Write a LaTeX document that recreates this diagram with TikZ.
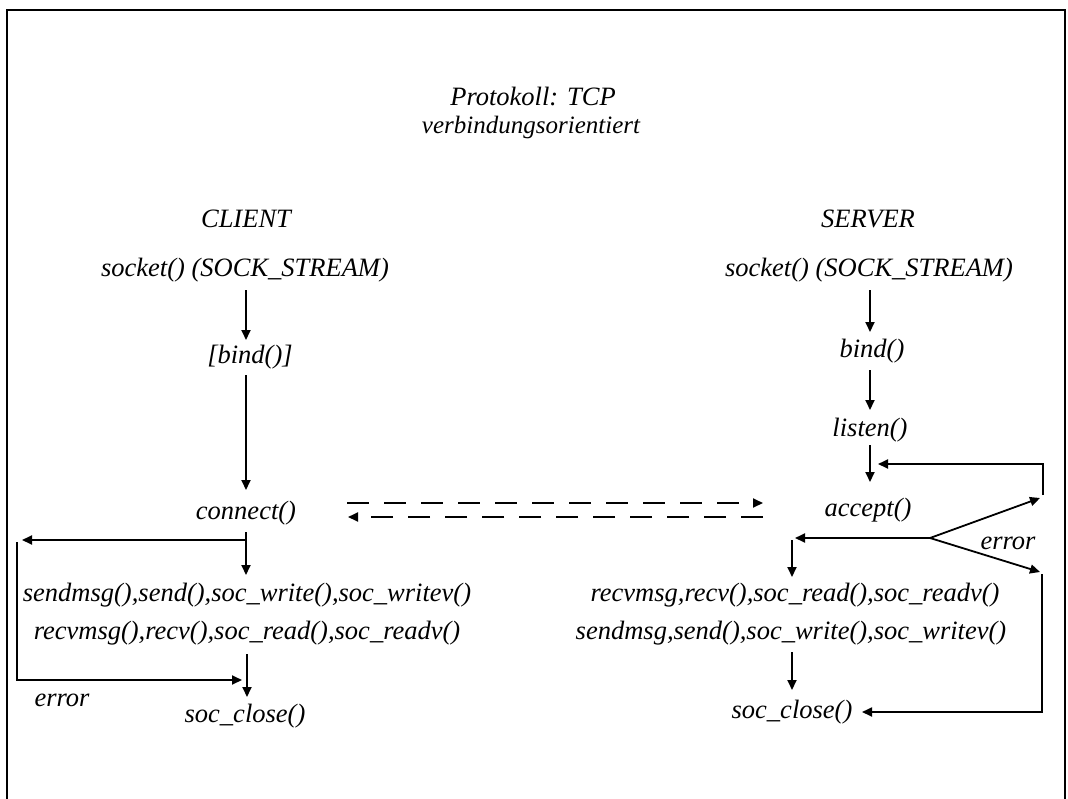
\documentclass[tikz,border=0pt]{standalone}
\usepackage{fontspec}
\setmainfont{Liberation Serif}
\usetikzlibrary{arrows.meta,calc}
\begin{document}
\begin{tikzpicture}[x=1pt,y=-1pt,
  lbl/.style={font=\fontsize{26.5}{30}\selectfont\itshape, inner sep=0pt},
  wire/.style={line width=1.8pt},
  flow/.style={wire,-{Triangle[length=10pt,width=9pt]}},
  msg/.style={flow, dash pattern=on 22pt off 15pt}]
\useasboundingbox (0,0) rectangle (1068,798);
% outer frame (open at the bottom edge of the page)
\draw[wire] (7,830) -- (7,10) -- (1065,10) -- (1065,830);

% headings
\node[lbl] (title1) at (533,96) {Protokoll: TCP};
\node[lbl, font=\fontsize{25}{29}\selectfont\itshape] (title2) at (531,127) {verbindungsorientiert};
\node[lbl] (client) at (246,219) {CLIENT};
\node[lbl] (server) at (868,219) {SERVER};

% client side
\node[lbl] (csock)  at (245,270) {socket() (SOCK\_STREAM)};
\node[lbl] (cbind)  at (250,357) {[bind()]};
\node[lbl] (conn)   at (246,513) {connect()};
\node[lbl] (csend)  at (247,595) {sendmsg(),send(),soc\_write(),soc\_writev()};
\node[lbl] (crecv)  at (247,633) {recvmsg(),recv(),soc\_read(),soc\_readv()};
\node[lbl] (cerr)   at (62,700)  {error};
\node[lbl] (cclose) at (245,716) {soc\_close()};

% server side
\node[lbl] (ssock)   at (869,270) {socket() (SOCK\_STREAM)};
\node[lbl] (sbind)   at (872,351) {bind()};
\node[lbl] (slisten) at (870,430) {listen()};
\node[lbl] (sacc)    at (868,510) {accept()};
\node[lbl] (serr)    at (1008,543) {error};
\node[lbl] (srecv)   at (795,595) {recvmsg,recv(),soc\_read(),soc\_readv()};
\node[lbl] (ssend)   at (791,633) {sendmsg,send(),soc\_write(),soc\_writev()};
\node[lbl] (sclose)  at (792,712) {soc\_close()};

% branch points and free ends
\coordinate (cfork)    at (246,540);
\coordinate (cerrtip)  at (22,540);
\coordinate (cloop)    at (17,542);
\coordinate (clooptip) at (242,680);
\coordinate (sfork)    at (930,538);
\coordinate (sokay)    at (795,538);
\coordinate (sdown)    at (792,540);
\coordinate (serrup)   at (1040,498);
\coordinate (serrdn)   at (1040,572);
\coordinate (sfb)      at (1043,495);
\coordinate (sfbtip)   at (878,464);
\coordinate (sloop)    at (1042,574);

% client flow
\draw[flow] ($(csock)+(1,20)$) -- ($(cbind)+(-4,-17)$);
\draw[flow] ($(cbind)+(-4,18)$) -- ($(conn)+(0,-23)$);
\draw[flow] ($(conn)+(0,19)$) -- ($(csend)+(-1,-20)$);
\draw[flow] (cfork) -- (cerrtip);
\draw[flow] (cloop) |- (clooptip);
\draw[flow] ($(crecv)+(0,21)$) -- ($(cclose)+(2,-19)$);

% connection set-up between client and server
\draw[msg] ($(conn)+(101,-10)$) -- ($(sacc)+(-105,-7)$);
\draw[msg] ($(sacc)+(-105,7)$) -- ($(conn)+(102,4)$);

% server flow
\draw[flow] ($(ssock)+(1,20)$) -- ($(sbind)+(-2,-19)$);
\draw[flow] ($(sbind)+(-2,19)$) -- ($(slisten)+(0,-20)$);
\draw[flow] ($(slisten)+(0,15)$) -- ($(sacc)+(2,-28)$);
\draw[flow] (sfb) |- (sfbtip);
\draw[flow] (sfork) -- (sokay);
\draw[flow] (sdown) -- ($(srecv)+(-3,-18)$);
\draw[flow] (sfork) -- (serrup);
\draw[flow] (sfork) -- (serrdn);
\draw[flow] (sloop) |- ($(sclose)+(70,0)$);
\draw[flow] ($(ssend)+(1,19)$) -- ($(sclose)+(0,-22)$);
\end{tikzpicture}
\end{document}
